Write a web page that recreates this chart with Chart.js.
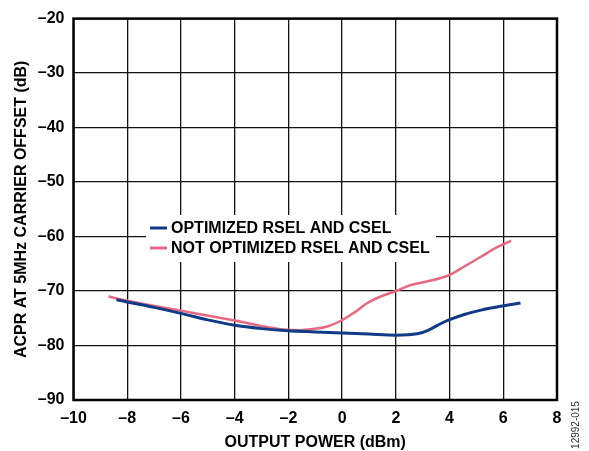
<!DOCTYPE html>
<html>
<head>
<meta charset="utf-8">
<script src="https://cdn.jsdelivr.net/npm/chart.js@4.4.1/dist/chart.umd.min.js"></script>
<style>
html,body{margin:0;padding:0;background:#fff;}
#wrap{position:relative;width:589px;height:451px;}
</style>
</head>
<body>
<div id="wrap"><canvas id="c" width="589" height="451"></canvas></div>
<script>
// ---- data ----
const optX = [-8.4, -8, -7, -6, -5, -4, -3, -2, -1, 0, 1, 2, 2.8, 3.2, 3.55, 3.93, 4.55, 5.17, 5.8, 6.64];
const optY = [-71.6, -72.0, -73.0, -74.1, -75.3, -76.3, -76.9, -77.3, -77.5, -77.7, -77.9, -78.1, -77.85, -77.2, -76.3, -75.4, -74.3, -73.5, -72.9, -72.2];
const notX = [-8.7, -8, -6, -4, -2.3, -1.55, -1.05, -0.55, -0.06, 0.44, 0.94, 1.44, 2, 2.56, 3.18, 3.93, 4.55, 5.17, 5.79, 6.29];
const notY = [-71.0, -71.8, -73.6, -75.4, -77.0, -77.2, -76.95, -76.5, -75.5, -74.0, -72.2, -71.0, -70.0, -68.9, -68.2, -67.2, -65.5, -63.7, -61.9, -60.8];
const xTickVals = [-10, -8, -6, -4, -2, 0, 2, 4, 6, 8];
const xTickLabels = ['–10', '–8', '–6', '–4', '–2', '0', '2', '4', '6', '8'];
const yTickVals = [-90, -80, -70, -60, -50, -40, -30, -20];
const yTickLabels = ['–90', '–80', '–70', '–60', '–50', '–40', '–30', '–20'];
const seriesNames = ['OPTIMIZED RSEL AND CSEL', 'NOT OPTIMIZED RSEL AND CSEL'];
const xTitle = 'OUTPUT POWER (dBm)';
const yTitle = 'ACPR AT 5MHz CARRIER OFFSET (dB)';
const figId = '12992-015';

const FONT = '"Liberation Sans", Arial, sans-serif';
const BLUE = '#0f3b87';
const PINK = '#e8687f';

const pts = (xs, ys) => xs.map((x, i) => ({x, y: ys[i]}));

const decor = {
  id: 'decor',
  beforeDatasetsDraw(chart) {
    const {ctx, chartArea: a} = chart;
    ctx.save();
    // frame
    ctx.strokeStyle = '#000';
    ctx.lineWidth = 2.5;
    ctx.strokeRect(a.left, a.top, a.right - a.left, a.bottom - a.top);
    // legend box
    ctx.fillStyle = '#fff';
    ctx.fillRect(146, 215, 290, 47);
    const cols = [BLUE, PINK];
    const ys = [228, 248];
    ctx.font = 'bold 16px ' + FONT;
    ctx.textBaseline = 'middle';
    ctx.textAlign = 'left';
    for (let i = 0; i < 2; i++) {
      ctx.strokeStyle = cols[i];
      ctx.lineWidth = 3;
      ctx.beginPath();
      ctx.moveTo(150, ys[i]);
      ctx.lineTo(167, ys[i]);
      ctx.stroke();
      ctx.fillStyle = '#000';
      ctx.fillText(seriesNames[i], 171, ys[i] + 1);
    }
    ctx.restore();
  },
  afterDraw(chart) {
    const {ctx, chartArea: a} = chart;
    ctx.save();
    ctx.fillStyle = '#000';
    ctx.font = 'bold 16px ' + FONT;
    ctx.textAlign = 'center';
    ctx.textBaseline = 'middle';
    ctx.fillText(xTitle, (a.left + a.right) / 2, 443);
    ctx.save();
    ctx.translate(22, (a.top + a.bottom) / 2);
    ctx.rotate(-Math.PI / 2);
    ctx.fillText(yTitle, 0, 0);
    ctx.restore();
    ctx.save();
    ctx.fillStyle = '#333';
    ctx.font = '10px ' + FONT;
    ctx.translate(576, 425);
    ctx.rotate(-Math.PI / 2);
    ctx.fillText(figId, 0, 0);
    ctx.restore();
    ctx.restore();
  }
};

new Chart(document.getElementById('c'), {
  type: 'scatter',
  data: {
    datasets: [
      {label: seriesNames[0], data: pts(optX, optY), showLine: true, borderColor: BLUE, borderWidth: 3,
       pointRadius: 0, tension: 0.4, cubicInterpolationMode: 'monotone', fill: false},
      {label: seriesNames[1], data: pts(notX, notY), showLine: true, borderColor: PINK, borderWidth: 2.5,
       pointRadius: 0, tension: 0.4, cubicInterpolationMode: 'monotone', fill: false}
    ]
  },
  options: {
    responsive: false,
    animation: false,
    devicePixelRatio: 1,
    layout: {padding: {top: 14, right: 32, left: 0, bottom: 0}},
    plugins: {legend: {display: false}, tooltip: {enabled: false}},
    scales: {
      x: {
        type: 'linear', min: -10, max: 8,
        afterBuildTicks: s => { s.ticks = xTickVals.map(v => ({value: v})); },
        afterFit: s => { s.height = 51; },
        grid: {color: '#111', lineWidth: 1.3, drawTicks: false},
        border: {display: false},
        ticks: {
          padding: 9, color: '#000', font: {family: FONT, size: 16, weight: 'bold'},
          maxRotation: 0, autoSkip: false,
          callback: v => { const i = xTickVals.indexOf(v); return i >= 0 ? xTickLabels[i] : ''; }
        }
      },
      y: {
        type: 'linear', min: -90, max: -20,
        afterBuildTicks: s => { s.ticks = yTickVals.map(v => ({value: v})); },
        afterFit: s => { s.width = 73.5; },
        grid: {color: '#111', lineWidth: 1.3, drawTicks: false},
        border: {display: false},
        ticks: {
          padding: 9, color: '#000', font: {family: FONT, size: 16, weight: 'bold'},
          autoSkip: false,
          callback: v => { const i = yTickVals.indexOf(v); return i >= 0 ? yTickLabels[i] : ''; }
        }
      }
    }
  },
  plugins: [decor]
});
</script>
</body>
</html>
